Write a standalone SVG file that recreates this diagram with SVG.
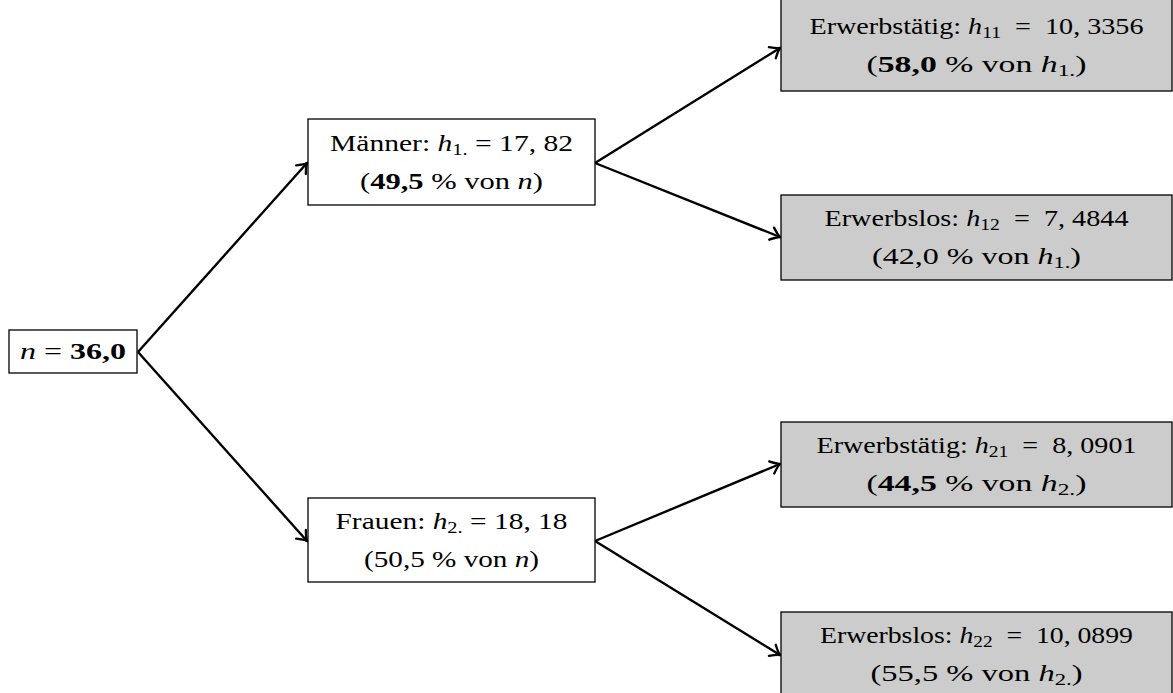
<svg xmlns="http://www.w3.org/2000/svg" width="1173" height="693" viewBox="0 0 1173 693">
<style>
.box{fill:#ffffff;stroke:#000;stroke-width:1.3}
.grey{fill:#cccccc;stroke:#000;stroke-width:1.3}
text{font-family:"Liberation Serif","DejaVu Serif",serif;font-size:23px;fill:#000;text-anchor:middle}
.i{font-style:italic}
.b{font-weight:bold}
.sub{font-size:16px}
.edge{stroke:#000;stroke-width:2.4;fill:none}
</style>
<defs>
<marker id="arr" viewBox="-12 -8 14 16" refX="0" refY="0" markerWidth="14" markerHeight="16" markerUnits="userSpaceOnUse" orient="auto">
<path d="M-9,-6.5 Q-3,-1.2 0,0 Q-3,1.2 -9,6.5" stroke="#000" stroke-width="2.3" fill="none" stroke-linecap="round"/>
</marker>
</defs>
<g id="connectors">
<line class="edge" x1="138" y1="352" x2="307" y2="163" marker-end="url(#arr)"/>
<line class="edge" x1="138" y1="352" x2="307" y2="541" marker-end="url(#arr)"/>
<line class="edge" x1="595" y1="163" x2="780" y2="48" marker-end="url(#arr)"/>
<line class="edge" x1="595" y1="163" x2="780" y2="237" marker-end="url(#arr)"/>
<line class="edge" x1="595" y1="541" x2="780" y2="464" marker-end="url(#arr)"/>
<line class="edge" x1="595" y1="541" x2="780" y2="655" marker-end="url(#arr)"/>
</g>
<g id="root">
<rect class="box" x="9" y="330" width="128" height="43"/>
<text x="73" y="359" textLength="106" lengthAdjust="spacingAndGlyphs"><tspan class="i">n</tspan> = <tspan class="b">36,0</tspan></text>
</g>
<g id="maenner">
<rect class="box" x="308" y="119" width="287" height="86"/>
<text x="451.5" y="151" textLength="243" lengthAdjust="spacingAndGlyphs">Männer: <tspan class="i">h</tspan><tspan class="sub" dy="4">1.</tspan><tspan dy="-4"> = 17, 82</tspan></text>
<text x="451.5" y="189" textLength="183" lengthAdjust="spacingAndGlyphs">(<tspan class="b">49,5</tspan> % von <tspan class="i">n</tspan>)</text>
</g>
<g id="frauen">
<rect class="box" x="308" y="498" width="287" height="84"/>
<text x="451.5" y="529" textLength="232" lengthAdjust="spacingAndGlyphs">Frauen: <tspan class="i">h</tspan><tspan class="sub" dy="4">2.</tspan><tspan dy="-4"> = 18, 18</tspan></text>
<text x="451.5" y="567" textLength="175" lengthAdjust="spacingAndGlyphs">(50,5 % von <tspan class="i">n</tspan>)</text>
</g>
<g id="erwerbstaetig1">
<rect class="grey" x="781" y="-2" width="391" height="93"/>
<text x="976.5" y="34" textLength="334" lengthAdjust="spacingAndGlyphs">Erwerbstätig: <tspan class="i">h</tspan><tspan class="sub" dy="4">11</tspan><tspan dy="-4">&#8194;=&#8194;10, 3356</tspan></text>
<text x="976.5" y="72" textLength="220" lengthAdjust="spacingAndGlyphs">(<tspan class="b">58,0</tspan> % von <tspan class="i">h</tspan><tspan class="sub" dy="4">1.</tspan><tspan dy="-4">)</tspan></text>
</g>
<g id="erwerbslos1">
<rect class="grey" x="781" y="195" width="391" height="85"/>
<text x="976.5" y="226" textLength="304" lengthAdjust="spacingAndGlyphs">Erwerbslos: <tspan class="i">h</tspan><tspan class="sub" dy="4">12</tspan><tspan dy="-4">&#8194;=&#8194;7, 4844</tspan></text>
<text x="976.5" y="264" textLength="209" lengthAdjust="spacingAndGlyphs">(42,0 % von <tspan class="i">h</tspan><tspan class="sub" dy="4">1.</tspan><tspan dy="-4">)</tspan></text>
</g>
<g id="erwerbstaetig2">
<rect class="grey" x="781" y="422" width="391" height="85"/>
<text x="976.5" y="453" textLength="320" lengthAdjust="spacingAndGlyphs">Erwerbstätig: <tspan class="i">h</tspan><tspan class="sub" dy="4">21</tspan><tspan dy="-4">&#8194;=&#8194;8, 0901</tspan></text>
<text x="976.5" y="491" textLength="220" lengthAdjust="spacingAndGlyphs">(<tspan class="b">44,5</tspan> % von <tspan class="i">h</tspan><tspan class="sub" dy="4">2.</tspan><tspan dy="-4">)</tspan></text>
</g>
<g id="erwerbslos2">
<rect class="grey" x="781" y="612" width="391" height="86"/>
<text x="976.5" y="643" textLength="313" lengthAdjust="spacingAndGlyphs">Erwerbslos: <tspan class="i">h</tspan><tspan class="sub" dy="4">22</tspan><tspan dy="-4">&#8194;=&#8194;10, 0899</tspan></text>
<text x="976.5" y="681" textLength="212" lengthAdjust="spacingAndGlyphs">(55,5 % von <tspan class="i">h</tspan><tspan class="sub" dy="4">2.</tspan><tspan dy="-4">)</tspan></text>
</g>
</svg>
